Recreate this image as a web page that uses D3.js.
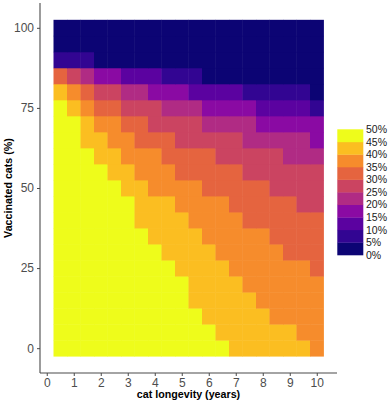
<!DOCTYPE html>
<html><head><meta charset="utf-8">
<script src="https://cdn.jsdelivr.net/npm/d3@7"></script>
<style>body{margin:0;background:#fff}svg{display:block}</style>
</head><body>
<svg id="chart" width="390" height="403"></svg>
<script>
// Data
const longevity = [0.5,1,1.5,2,2.5,3,3.5,4,4.5,5,5.5,6,6.5,7,7.5,8,8.5,9,9.5,10];
const vaccinated = [0,5,10,15,20,25,30,35,40,45,50,55,60,65,70,75,80,85,90,95,100];
const xTicks = [0,1,2,3,4,5,6,7,8,9,10];
const yTicks = [0,25,50,75,100];
const binBreaks = [0,5,10,15,20,25,30,35,40,45,50];
const binLabels = ["0%","5%","10%","15%","20%","25%","30%","35%","40%","45%","50%"];
const binColors = ["#0c0474","#320592","#5b02a0","#8a0aa3","#b02b84","#cb4461","#e5643f","#f68c2c","#fbbe21","#eefc1b"];
// estimated prevalence (%) : one row per vaccination level (0 → 100), one value per longevity
const prevalence = [
 [48,48,48,48,48,48,48,48,48,48,48,48,48,43,43,43,43,43,43,38],
 [48,48,48,48,48,48,48,48,48,48,48,48,43,43,43,43,43,43,38,38],
 [48,48,48,48,48,48,48,48,48,48,48,43,43,43,43,43,38,38,38,38],
 [48,48,48,48,48,48,48,48,48,48,43,43,43,43,43,38,38,38,38,38],
 [48,48,48,48,48,48,48,48,48,48,43,43,43,43,38,38,38,38,38,38],
 [48,48,48,48,48,48,48,48,48,43,43,43,43,38,38,38,38,38,38,33],
 [48,48,48,48,48,48,48,48,43,43,43,43,38,38,38,38,38,33,33,33],
 [48,48,48,48,48,48,48,43,43,43,43,38,38,38,38,38,33,33,33,33],
 [48,48,48,48,48,48,43,43,43,43,38,38,38,38,33,33,33,33,33,33],
 [48,48,48,48,48,48,43,43,43,38,38,38,38,33,33,33,33,33,28,28],
 [48,48,48,48,48,43,43,38,38,38,38,33,33,33,33,33,28,28,28,28],
 [48,48,48,48,43,43,38,38,38,33,33,33,33,33,28,28,28,28,28,28],
 [48,48,48,43,43,38,38,38,33,33,33,33,28,28,28,28,28,23,23,23],
 [48,48,43,43,38,38,33,33,33,28,28,28,28,28,23,23,23,23,23,18],
 [48,48,43,38,38,33,33,28,28,28,28,23,23,23,23,18,18,18,18,18],
 [48,43,38,33,33,28,28,28,23,23,23,18,18,18,18,13,13,13,13,8],
 [43,38,33,28,28,23,23,18,18,18,13,13,13,13,8,8,8,8,8,3],
 [33,28,23,18,18,13,13,13,8,8,8,3,3,3,3,3,3,3,3,3],
 [8,8,8,3,3,3,3,3,3,3,3,3,3,3,3,3,3,3,3,3],
 [3,3,3,3,3,3,3,3,3,3,3,3,3,3,3,3,3,3,3,3],
 [3,3,3,3,3,3,3,3,3,3,3,3,3,3,3,3,3,3,3,3]
];

const svg = d3.select("#chart");
const x = d3.scaleLinear().domain([-0.25, 10.75]).range([40, 337]);
const y = d3.scaleLinear().domain([-7.75, 107.75]).range([373, 3]);
const color = d3.scaleThreshold().domain(binBreaks.slice(1, -1)).range(binColors);

const cells = [];
vaccinated.forEach((v, i) => longevity.forEach((l, j) => cells.push({l, v, p: prevalence[i][j]})));

svg.append("g").selectAll("rect").data(cells).join("rect")
  .attr("x", d => x(d.l - 0.25))
  .attr("y", d => y(d.v + 2.5))
  .attr("width", x(0.5) - x(0) + 0.4)
  .attr("height", y(0) - y(5) + 0.4)
  .attr("fill", d => color(d.p));

const axisColor = "#4a4a4a";
const font = "'Liberation Sans', Arial, sans-serif";

const xAxis = svg.append("g").attr("transform", "translate(0,373)")
  .call(d3.axisBottom(x).tickValues(xTicks).tickSize(3).tickPadding(2).tickFormat(d3.format("d")));
const yAxis = svg.append("g").attr("transform", "translate(40,0)")
  .call(d3.axisLeft(y).tickValues(yTicks).tickSize(3).tickPadding(3).tickFormat(d3.format("d")));
[xAxis, yAxis].forEach(g => {
  g.select(".domain").attr("stroke", axisColor).attr("stroke-width", 1.1);
  g.selectAll(".tick line").attr("stroke", axisColor).attr("stroke-width", 1);
  g.selectAll(".tick text").attr("fill", "#4d4d4d").style("font-family", font).style("font-size", "12px");
});
xAxis.select(".domain").attr("d", "M40,0H337");
yAxis.select(".domain").attr("d", "M0,3V373");

svg.append("text").attr("x", (40 + 337) / 2).attr("y", 398).attr("text-anchor", "middle")
  .style("font-family", font).style("font-size", "10.7px").style("font-weight", "bold").attr("fill", "#000")
  .text("cat longevity (years)");
svg.append("text").attr("transform", `translate(12,${(3 + 373) / 2}) rotate(-90)`).attr("text-anchor", "middle")
  .style("font-family", font).style("font-size", "10.7px").style("font-weight", "bold").attr("fill", "#000")
  .text("Vaccinated cats (%)");

// Legend
const ly = d3.scaleLinear().domain([0, 50]).range([255, 129.3]);
const lg = svg.append("g");
lg.selectAll("rect").data(binColors).join("rect")
  .attr("x", 337.3).attr("width", 26)
  .attr("y", (d, i) => ly(binBreaks[i + 1]))
  .attr("height", (d, i) => ly(binBreaks[i]) - ly(binBreaks[i + 1]) + 0.3)
  .attr("fill", d => d);
lg.selectAll("text").data(binLabels).join("text")
  .attr("x", 366).attr("y", (d, i) => ly(binBreaks[i])).attr("dy", "0.35em")
  .style("font-family", font).style("font-size", "10.5px").attr("fill", "#1a1a1a")
  .text(d => d);
</script>
</body></html>
